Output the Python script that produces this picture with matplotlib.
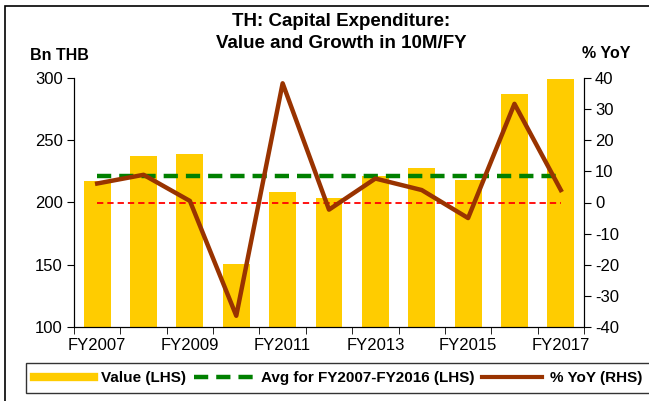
import matplotlib
matplotlib.use("Agg", force=True)

import matplotlib.pyplot as plt
from matplotlib.patches import Rectangle
from matplotlib.lines import Line2D

plt.rcParams['font.family'] = ['Liberation Sans', 'DejaVu Sans']
plt.rcParams['axes.unicode_minus'] = False

years = ['FY2007', 'FY2008', 'FY2009', 'FY2010', 'FY2011', 'FY2012',
         'FY2013', 'FY2014', 'FY2015', 'FY2016', 'FY2017']
value = [217.5, 237, 239, 151, 208.7, 204, 221, 228, 218, 287, 299]
yoy = [6.1, 8.9, 0.5, -36.4, 38.3, -2.3, 7.7, 4.0, -5.0, 31.7, 4.0]
avg_0716 = 221.3

bar_col = '#FFCC00'
line_col = '#993300'

fig = plt.figure(figsize=(6.49, 4.01), dpi=100)
ax = fig.add_axes([74/649, 1-327/401, 510/649, 249/401])
x = list(range(len(years)))

ax.bar(x, value, width=0.58, color=bar_col, zorder=1)
ax.plot([x[0], x[-1]], [avg_0716]*2, color='#008000', lw=3.2,
        dashes=(3.2, 1.8), zorder=3)
ax.set_xlim(-0.5, len(years)-0.5)
ax.set_ylim(100, 300)
ax.set_yticks([100, 150, 200, 250, 300])

ax.set_xticks(x)
ax.set_xticklabels([y if i % 2 == 0 else '' for i, y in enumerate(years)])
ax.set_xticks([i-0.5 for i in range(len(years)+1)], minor=True)
ax.tick_params(axis='x', which='major', length=0, pad=8, labelsize=12)
ax.tick_params(axis='x', which='minor', length=5, direction='out')
ax.tick_params(axis='y', length=5, direction='out', labelsize=12, pad=3)
ax.spines['top'].set_visible(False)

ax2 = ax.twinx()
ax2.plot([x[0], x[-1]], [0, 0], color='#FF0000', lw=1.3, dashes=(3.5, 2.2), zorder=2)
ax2.plot(x, yoy, color=line_col, lw=3.2, zorder=4)
ax2.set_ylim(-40, 40)
ax2.set_yticks(range(-40, 41, 10))
ax2.tick_params(axis='y', length=5, direction='out', labelsize=12, pad=3)
ax2.spines['top'].set_visible(False)

fig.text(341/649, 1-22/401, 'TH: Capital Expenditure:', ha='center', va='center',
         fontsize=13.5, fontweight='bold')
fig.text(341/649, 1-43/401, 'Value and Growth in 10M/FY', ha='center', va='center',
         fontsize=13.5, fontweight='bold')
fig.text(30/649, 1-55/401, 'Bn THB', ha='left', va='center', fontsize=11.5, fontweight='bold')
fig.text(631/649, 1-53/401, '% YoY', ha='right', va='center', fontsize=11.5, fontweight='bold')

# outer frame of the chart
fig.patches.append(Rectangle((5/649, -0.2), 1.0, 1.2 - 6/401, transform=fig.transFigure,
                             fill=False, edgecolor='black', lw=1.2))

handles = [Line2D([], [], color=bar_col, lw=6),
           Line2D([], [], color='#008000', lw=3.2, dashes=(3.2, 1.8)),
           Line2D([], [], color=line_col, lw=3.0)]
labels = ['Value (LHS)', 'Avg for FY2007-FY2016 (LHS)', '% YoY (RHS)']
leg = fig.legend(handles, labels, loc='center', ncol=3,
                 bbox_to_anchor=(338/649, 1-378/401), frameon=True, fancybox=False,
                 edgecolor='black', handlelength=3.9, handletextpad=0.5,
                 columnspacing=0.5, borderpad=0.5, borderaxespad=0,
                 prop={'weight': 'bold', 'size': 11})
leg.get_frame().set_linewidth(1.0)

fig.savefig('out.png', dpi=100)
